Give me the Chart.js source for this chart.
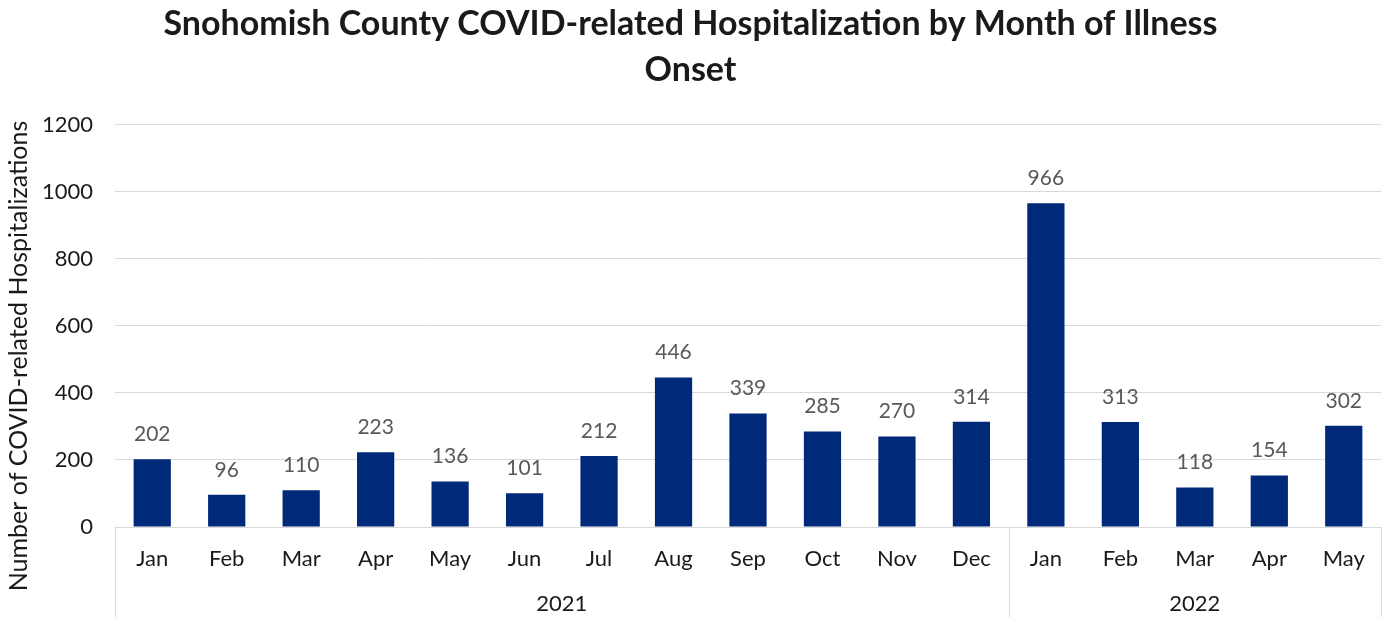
<!DOCTYPE html>
<html>
<head>
<meta charset="utf-8">
<script src="https://cdn.jsdelivr.net/npm/chart.js@4"></script>
<style>
    html, body { margin: 0; padding: 0; background: #fff; }
    #wrap { width: 1382px; height: 617px; }
</style>
</head>
<body>
<div id="wrap"><canvas id="chart" width="1382" height="617"></canvas></div>
<script>
(function() {
    'use strict';

    // Month of illness onset
    const months = ['Jan', 'Feb', 'Mar', 'Apr', 'May', 'Jun', 'Jul', 'Aug', 'Sep', 'Oct', 'Nov', 'Dec',
        'Jan', 'Feb', 'Mar', 'Apr', 'May'];
    const hospitalizations = [202, 96, 110, 223, 136, 101, 212, 446, 339, 285, 270, 314,
        966, 313, 118, 154, 302];

    // Year groups on the second axis level
    const years = ['2021', '2022'];
    const monthsPerYear = [12, 5];

    const yTicks = [0, 200, 400, 600, 800, 1000, 1200];

    const barColor = '#00297A';
    const gridColor = '#d9d9d9';
    const labelColor = '#595959';
    const textColor = '#1a1a1a';
    const fontFamily = 'Lato, "Open Sans", sans-serif';

    // Value labels above the bars
    const valueLabels = {
        id: 'valueLabels',
        afterDatasetsDraw(chart) {
            const ctx = chart.ctx;
            const meta = chart.getDatasetMeta(0);
            ctx.save();
            ctx.font = '21px ' + fontFamily;
            ctx.fillStyle = labelColor;
            ctx.textAlign = 'center';
            ctx.textBaseline = 'middle';
            meta.data.forEach(function(bar, i) {
                ctx.fillText(String(hospitalizations[i]), bar.x, bar.y - 25);
            });
            ctx.restore();
        }
    };

    // Year row, group separators and the y axis title
    const groupAxis = {
        id: 'groupAxis',
        afterDraw(chart) {
            const ctx = chart.ctx;
            const x = chart.scales.x;
            const area = chart.chartArea;
            const half = (x.getPixelForValue(1) - x.getPixelForValue(0)) / 2;
            ctx.save();
            ctx.strokeStyle = gridColor;
            ctx.lineWidth = 1;

            let start = 0;
            const edges = [x.getPixelForValue(0) - half];
            years.forEach(function(year, g) {
                const end = start + monthsPerYear[g] - 1;
                const left = x.getPixelForValue(start) - half;
                const right = x.getPixelForValue(end) + half;
                edges.push(right);
                ctx.font = '22px ' + fontFamily;
                ctx.fillStyle = textColor;
                ctx.textAlign = 'center';
                ctx.textBaseline = 'middle';
                ctx.fillText(year, (left + right) / 2, area.bottom + 77);
                start = end + 1;
            });
            edges.forEach(function(px) {
                const p = Math.round(px) + 0.5;
                ctx.beginPath();
                ctx.moveTo(p, area.bottom);
                ctx.lineTo(p, chart.height);
                ctx.stroke();
            });

            // y axis title
            ctx.translate(19, 356);
            ctx.rotate(-Math.PI / 2);
            ctx.font = '25px ' + fontFamily;
            ctx.fillStyle = textColor;
            ctx.textAlign = 'center';
            ctx.textBaseline = 'middle';
            ctx.fillText('Number of COVID-related Hospitalizations', 0, 0);
            ctx.restore();
        }
    };

    new Chart(document.getElementById('chart'), {
        type: 'bar',
        data: {
            labels: months,
            datasets: [{
                data: hospitalizations,
                backgroundColor: barColor,
                borderWidth: 0,
                barPercentage: 0.5,
                categoryPercentage: 1.0
            }]
        },
        options: {
            responsive: false,
            animation: false,
            layout: { padding: { left: 0, right: 1, top: 0, bottom: 0 } },
            plugins: {
                legend: { display: false },
                tooltip: { enabled: false },
                title: {
                    display: true,
                    text: ['Snohomish County COVID-related Hospitalization by Month of Illness', 'Onset'],
                    color: textColor,
                    font: { family: fontFamily, size: 34, weight: 'bold', lineHeight: 1.35 },
                    padding: { top: 1, bottom: 32 }
                }
            },
            scales: {
                x: {
                    grid: { display: false },
                    border: { display: true, color: gridColor },
                    ticks: {
                        color: textColor,
                        font: { family: fontFamily, size: 22 },
                        padding: 11,
                        maxRotation: 0,
                        autoSkip: false
                    },
                    afterFit: function(scale) { scale.height = 90; }
                },
                y: {
                    min: 0,
                    max: 1200,
                    afterBuildTicks: function(scale) {
                        scale.ticks = yTicks.map(function(v) { return { value: v }; });
                    },
                    grid: { color: gridColor, drawTicks: false },
                    border: { display: false },
                    ticks: {
                        color: textColor,
                        font: { family: fontFamily, size: 22 },
                        padding: 22,
                        callback: function(value) { return String(value); }
                    },
                    afterFit: function(scale) { scale.width = 115; }
                }
            }
        },
        plugins: [valueLabels, groupAxis]
    });
})();
</script>
</body>
</html>
